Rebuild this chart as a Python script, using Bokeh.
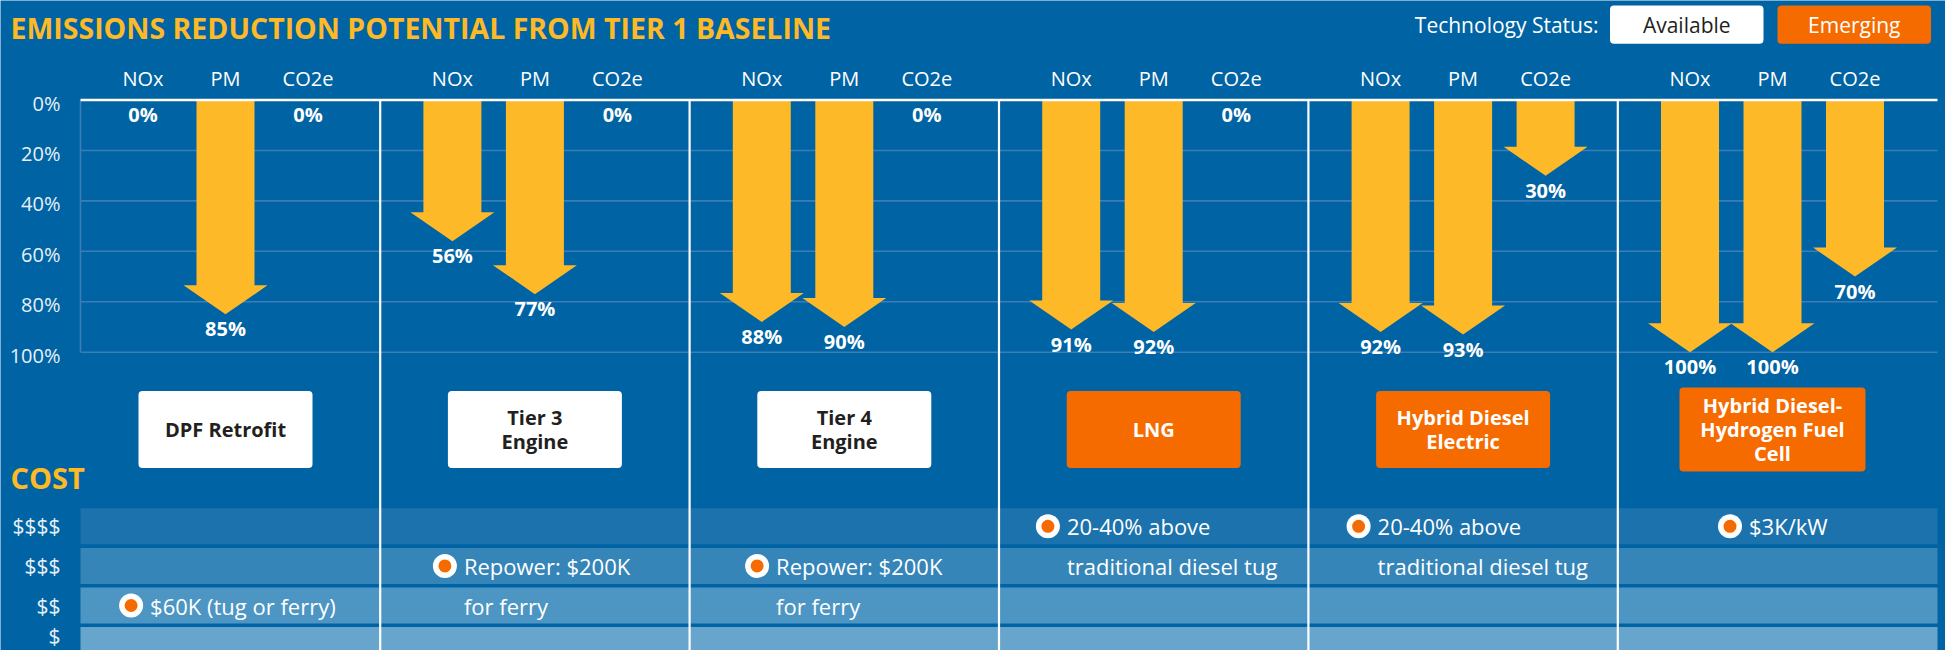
import numpy as np
from bokeh.plotting import figure
from bokeh.models import Range1d
from bokeh.core.properties import value
from bokeh.embed import file_html
from bokeh.resources import INLINE

# ---------------- data ----------------
technologies = ["DPF Retrofit", "Tier 3\nEngine", "Tier 4\nEngine", "LNG",
                "Hybrid Diesel\nElectric", "Hybrid Diesel-\nHydrogen Fuel\nCell"]
status = ["Available", "Available", "Available", "Emerging", "Emerging", "Emerging"]
pollutants = ["NOx", "PM", "CO2e"]
nox_reduction = [0, 56, 88, 91, 92, 100]
pm_reduction = [85, 77, 90, 92, 93, 100]
co2e_reduction = [0, 0, 0, 0, 30, 70]
pct_ticks = [0, 20, 40, 60, 80, 100]
pct_tick_labels = ["0%", "20%", "40%", "60%", "80%", "100%"]
cost_levels = [1, 2, 3, 4]
cost_level_labels = ["$", "$$", "$$$", "$$$$"]
cost_level = [2, 3, 3, 4, 4, 4]
cost_text_1 = ["$60K (tug or ferry)", "Repower: $200K", "Repower: $200K",
               "20-40% above", "20-40% above", "$3K/kW"]
cost_text_2 = ["", "for ferry", "for ferry",
               "traditional diesel tug", "traditional diesel tug", ""]
status_legend = ["Available", "Emerging"]
title_text = "EMISSIONS REDUCTION POTENTIAL FROM TIER 1 BASELINE"

# ---------------- style / layout ----------------
BG = "#0063A3"
YELLOW = "#FDB927"
ORANGE = "#F66B00"
GRID = "#3B7DB7"
WHITE = "#FFFFFF"
LABEL = "#E8F0F7"
DARK = "#231F20"
BAND_COLORS = {1: "#67A5CC", 2: "#4D95C3", 3: "#3685B9", 4: "#1C72AC"}
FONT = value("Open Sans")

W, H = 1945, 650
GROUP_PX = 309.4
G0 = 225
Y0 = 99.5
PX_PER_PCT = 2.522
COST_C1 = 644.6
COST_STEP = 39.6
PLOT_LEFT_PX = 80
PLOT_RIGHT_PX = 1937

x_range = Range1d(-G0 / GROUP_PX, (W - G0) / GROUP_PX)
y_range = Range1d((H - Y0) / PX_PER_PCT, -Y0 / PX_PER_PCT)

p = figure(width=W, height=H, x_range=x_range, y_range=y_range,
           output_backend="svg", toolbar_location=None, title=None,
           x_axis_location=None, y_axis_location=None, min_border=0,
           background_fill_color=BG, border_fill_color=BG, outline_line_color=None)
p.grid.visible = False
p.extra_x_ranges = {"px": Range1d(0, W)}
p.extra_y_ranges = {"px": Range1d(H, 0),
                    "cost": Range1d(1 + (COST_C1 - H) / COST_STEP, 1 + COST_C1 / COST_STEP)}

xl = (PLOT_LEFT_PX - G0) / GROUP_PX
xr = (PLOT_RIGHT_PX - G0) / GROUP_PX
n = len(technologies)
group_x = np.arange(n)

# cost bands
p.quad(left=[xl] * 4, right=[xr] * 4,
       bottom=[k - 0.455 for k in cost_levels], top=[k + 0.455 for k in cost_levels],
       fill_color=[BAND_COLORS[k] for k in cost_levels], line_color=None,
       y_range_name="cost")

# grid lines
grid_vals = [t for t in pct_ticks if t > 0]
p.segment(x0=[xl] * len(grid_vals), x1=[xr] * len(grid_vals), y0=grid_vals, y1=grid_vals,
          line_color=GRID, line_width=1.6)
p.segment(x0=[xl], x1=[xl], y0=[0], y1=[100], line_color=GRID, line_width=1.6)

# arrows
COL_DX = 82.5 / GROUP_PX
SHAFT = 29 / GROUP_PX
HEAD = 42 / GROUP_PX
HEAD_H = 29 / PX_PER_PCT
LABEL_GAP = 14.5 / PX_PER_PCT
series = [nox_reduction, pm_reduction, co2e_reduction]
xs, ys, lx, ly, lt = [], [], [], [], []
for j, vals in enumerate(series):
    for i, v in enumerate(vals):
        cx = i + (j - 1) * COL_DX
        if v > 0:
            hy = v - HEAD_H
            xs.append([cx - SHAFT, cx + SHAFT, cx + SHAFT, cx + HEAD, cx, cx - HEAD, cx - SHAFT])
            ys.append([0, 0, hy, hy, v, hy, hy])
        lx.append(cx)
        ly.append(v + LABEL_GAP)
        lt.append(f"{v}%")
p.patches(xs, ys, fill_color=YELLOW, line_color=None)
p.text(x=lx, y=ly, text=lt, text_font=FONT, text_font_style="bold",
       text_font_size="20px", text_color=WHITE, text_align="center", text_baseline="middle")

# top white line and separators
p.segment(x0=[xl], x1=[xr], y0=[0], y1=[0], line_color=WHITE, line_width=2.5)
sep = [i + 0.5 for i in range(n - 1)]
p.segment(x0=sep, x1=sep, y0=[0] * len(sep), y1=[y_range.start] * len(sep),
          line_color=WHITE, line_width=2.2)

# pollutant headers
hx, hl = [], []
for i in range(n):
    for j, pol in enumerate(pollutants):
        hx.append(i + (j - 1) * COL_DX)
        hl.append(pol)
p.text(x=hx, y=[77.7] * len(hx), text=hl, y_range_name="px", text_font=FONT,
       text_font_size="20px", text_color=WHITE, text_align="center", text_baseline="middle")

# y tick labels
p.text(x=[60] * len(pct_ticks), y=pct_ticks, text=pct_tick_labels, x_range_name="px",
       text_font=FONT, text_font_size="20px", text_color=LABEL, text_align="right",
       text_baseline="middle", y_offset=3)

# cost level labels (lowest one sits on the canvas edge, so anchor it by its bottom)
p.text(x=[60] * 3, y=cost_levels[1:], text=cost_level_labels[1:], x_range_name="px",
       y_range_name="cost", text_font=FONT, text_font_size="21px", text_color=LABEL,
       text_align="right", text_baseline="middle")
p.text(x=[60], y=[H - 1], text=cost_level_labels[:1], x_range_name="px",
       y_range_name="px", text_font=FONT, text_font_size="21px", text_color=LABEL,
       text_align="right", text_baseline="bottom")

# titles
p.text(x=[10], y=[27], text=[title_text], x_range_name="px", y_range_name="px",
       text_font=FONT, text_font_style="bold", text_font_size="28.5px", text_color=YELLOW,
       text_align="left", text_baseline="middle")
p.text(x=[10], y=[476.7], text=["COST"], x_range_name="px", y_range_name="px",
       text_font=FONT, text_font_style="bold", text_font_size="29px", text_color=YELLOW,
       text_align="left", text_baseline="middle")

# technology boxes
n_lines = [t.count("\n") + 1 for t in technologies]
half_w = [93 if k >= 3 else 87 for k in n_lines]
half_h = [42 if k >= 3 else 38.5 for k in n_lines]
BOX_CY = 429
p.quad(left=[i - hw / GROUP_PX for i, hw in zip(group_x, half_w)],
       right=[i + hw / GROUP_PX for i, hw in zip(group_x, half_w)],
       top=[BOX_CY - hh for hh in half_h], bottom=[BOX_CY + hh for hh in half_h],
       y_range_name="px",
       fill_color=[WHITE if s == "Available" else ORANGE for s in status],
       line_color=None, border_radius=4)
p.text(x=list(group_x), y=[BOX_CY] * n, text=technologies, y_range_name="px",
       text_font=FONT, text_font_style="bold", text_font_size="20px",
       text_color=[DARK if s == "Available" else WHITE for s in status],
       text_align="center", text_baseline="middle", text_line_height=0.9)

# legend
p.text(x=[1598], y=[24], text=["Technology Status:"], x_range_name="px",
       y_range_name="px", text_font=FONT, text_font_size="21px", text_color=WHITE,
       text_align="right", text_baseline="middle")
leg_left = [1609.5, 1777]
leg_w = 153.5
p.quad(left=leg_left, right=[l + leg_w for l in leg_left], top=[5] * 2,
       bottom=[43.3] * 2, x_range_name="px", y_range_name="px",
       fill_color=[WHITE, ORANGE], line_color=None, border_radius=4)
p.text(x=[l + leg_w / 2 for l in leg_left], y=[24] * 2, text=status_legend,
       x_range_name="px", y_range_name="px", text_font=FONT, text_font_size="21px",
       text_color=[DARK, WHITE], text_align="center", text_baseline="middle")

# cost markers and notes
marker_dx = [-94.4, -90, -87.2, -105.8, -104.5, -42.5]
mx = [i + d / GROUP_PX for i, d in zip(group_x, marker_dx)]
p.scatter(x=mx, y=cost_level, y_range_name="cost", size=24, marker="circle",
          fill_color=WHITE, line_color=None)
p.scatter(x=mx, y=cost_level, y_range_name="cost", size=13, marker="circle",
          fill_color=ORANGE, line_color=None)
tx = [m + 19 / GROUP_PX for m in mx]
p.text(x=tx, y=cost_level, text=cost_text_1, y_range_name="cost", text_font=FONT,
       text_font_size="22px", text_color=WHITE, text_align="left", text_baseline="middle")
l2 = [k for k, t in enumerate(cost_text_2) if t]
p.text(x=[tx[k] for k in l2], y=[cost_level[k] - 1 for k in l2], text=[cost_text_2[k] for k in l2],
       y_range_name="cost", text_font=FONT, text_font_size="22px", text_color=WHITE,
       text_align="left", text_baseline="middle")

open("out.html", "w").write(file_html(p, INLINE, title="Emissions reduction potential"))
